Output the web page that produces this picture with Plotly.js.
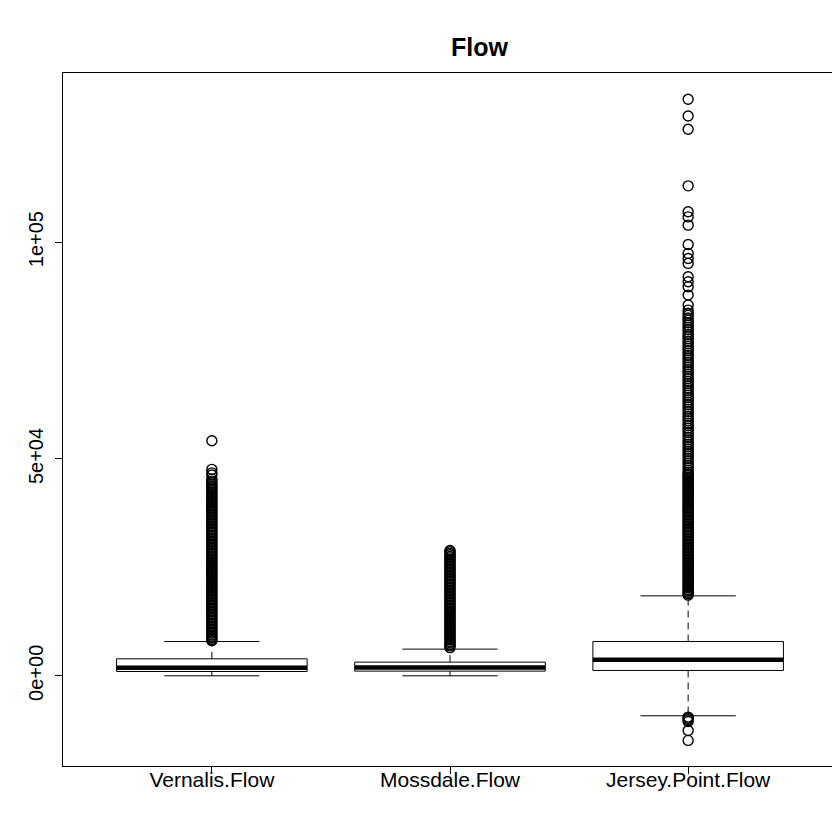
<!DOCTYPE html>
<html>
<head>
<meta charset="utf-8">
<script src="https://cdn.plot.ly/plotly-3.0.1.min.js"></script>
<style>
html,body{margin:0;padding:0;overflow:hidden;background:#fff;}
#chart{width:840px;height:824px;}
</style>
</head>
<body>
<div id="chart"></div>
<script>
// ---- data ----
const categories = ["Vernalis.Flow", "Mossdale.Flow", "Jersey.Point.Flow"];
const positions = [1, 2, 3];
const lowerWhisker = [0, 0, -9220];
const q1 = [990, 1080, 1230];
const median = [1840, 1900, 3690];
const q3 = [3920, 3150, 7910];
const upperWhisker = [7900, 6150, 18430];

const vernalisOutliers = [54200, 47600, 46800, 46300, 45400, 44900, 44500,
  44100, 43700, 43400, 43000, 42700, 42300, 42000, 41600, 41300, 40900, 40600, 40200, 39900, 39500, 39200, 38800, 38500, 38100, 37800, 37400, 37100, 36700, 36400, 36000, 35700, 35300, 35000, 34600, 34300, 33900, 33600, 33200, 32900, 32500, 32200, 31800, 31500, 31100, 30800, 30400, 30100, 29700, 29400, 29000, 28700, 28300, 28000, 27600, 27300, 26900, 26600, 26200, 25900, 25500, 25200, 24800, 24500, 24100, 23800, 23400, 23100, 22700, 22400, 22000, 21700, 21300, 21000, 20600, 20300, 19900, 19600, 19200, 18900, 18500, 18200, 17800, 17500, 17100, 16800, 16400, 16100, 15700, 15400, 15000, 14700, 14300, 14000, 13600, 13300, 12900, 12600, 12200, 11900, 11500, 11200, 10800, 10500, 10100, 9800, 9400, 9100, 8700, 8400, 8100];
const mossdaleOutliers = [28900, 28600, 28200, 27900, 27500, 27200, 26800, 26500, 26100, 25800, 25400, 25100, 24700, 24400, 24000, 23700, 23300, 23000, 22600, 22300, 21900, 21600, 21200, 20900, 20500, 20200, 19800, 19500, 19100, 18800, 18400, 18100, 17700, 17400, 17000, 16700, 16300, 16000, 15600, 15300, 14900, 14600, 14200, 13900, 13500, 13200, 12800, 12500, 12100, 11800, 11400, 11100, 10700, 10400, 10000, 9700, 9300, 9000, 8600, 8300, 7900, 7600, 7200, 6900, 6500];
const jerseyOutliers = [132950, 129100, 126040, 112980, 106990, 105830, 103920, 99470, 97400, 96240, 95090, 92000, 90850, 89700, 87790, 85480, 84330,
  83600, 83100, 82500, 82000, 81400, 80900, 80400, 79800, 79300, 78700, 78200, 77700, 77100, 76600, 76000, 75500, 75000, 74400, 73900, 73300, 72800, 72300, 71700, 71200, 70600, 70100, 69600, 69000, 68500, 67900, 67400, 66900, 66300, 65800, 65200, 64700, 64200, 63600, 63100, 62500, 62000, 61500, 60900, 60400, 59800, 59300, 58800, 58200, 57700, 57100, 56600, 56100, 55500, 55000, 54400, 53900, 53400, 52800, 52300, 51700, 51200, 50700, 50100, 49600, 49000, 48500, 48000, 47400, 46900,
  46500, 46200, 45800, 45500, 45100, 44800, 44400, 44100, 43700, 43400, 43000, 42700, 42300, 42000, 41600, 41300, 40900, 40600, 40200, 39900, 39500, 39200, 38800, 38500, 38100, 37800, 37400, 37100, 36700, 36400, 36000, 35700, 35300, 35000, 34600, 34300, 33900, 33600, 33200, 32900, 32500, 32200, 31800, 31500, 31100, 30800, 30400, 30100, 29700, 29400, 29000, 28700, 28300, 28000, 27600, 27300, 26900, 26600, 26200, 25900, 25500, 25200, 24800, 24500, 24100, 23800, 23400, 23100, 22700, 22400, 22000, 21700, 21300, 21000, 20600, 20300, 19900, 19600, 19200, 18900, 18600,
  -9520, -9800, -10100, -10530, -12600, -14900];
const outliers = [vernalisOutliers, mossdaleOutliers, jerseyOutliers];

const yTickVals = [0, 50000, 100000];
const yTickText = ["0e+00", "5e+04", "1e+05"];

// ---- styles ----
const BOXW = 0.8, CAPW = 0.4;
const FONT = "Liberation Sans, Arial, sans-serif";

// box bodies (whiskers drawn separately, dashed like R)
const boxTrace = {
  type: 'box', x: positions, q1: q1, median: median, q3: q3,
  lowerfence: q1, upperfence: q3, width: BOXW, whiskerwidth: 0,
  boxpoints: false, fillcolor: '#ffffff',
  line: {color: '#000000', width: 1}, hoverinfo: 'skip', showlegend: false
};

// whiskers
const wx = [], wy = [];
positions.forEach((p, i) => {
  wx.push(p, p, null, p, p, null);
  wy.push(q3[i], upperWhisker[i], null, q1[i], lowerWhisker[i], null);
});
const whiskerTrace = {type: 'scatter', mode: 'lines', x: wx, y: wy,
  line: {color: '#000', width: 1, dash: '7px,5px'}, hoverinfo: 'skip', showlegend: false};

// caps
const cx = [], cy = [];
positions.forEach((p, i) => {
  cx.push(p - CAPW / 2, p + CAPW / 2, null, p - CAPW / 2, p + CAPW / 2, null);
  cy.push(upperWhisker[i], upperWhisker[i], null, lowerWhisker[i], lowerWhisker[i], null);
});
const capTrace = {type: 'scatter', mode: 'lines', x: cx, y: cy,
  line: {color: '#000', width: 1}, hoverinfo: 'skip', showlegend: false};

// medians (thick)
const mx = [], my = [];
positions.forEach((p, i) => {
  mx.push(p - BOXW / 2, p + BOXW / 2, null);
  my.push(median[i], median[i], null);
});
const medianTrace = {type: 'scatter', mode: 'lines', x: mx, y: my,
  line: {color: '#000', width: 4.5}, hoverinfo: 'skip', showlegend: false};

// outliers
const ox = [], oy = [];
outliers.forEach((arr, i) => arr.forEach(v => { ox.push(positions[i]); oy.push(v); }));
const outlierTrace = {type: 'scatter', mode: 'markers', x: ox, y: oy,
  marker: {symbol: 'circle-open', size: 10, color: '#000', line: {width: 1.4, color: '#000'}},
  hoverinfo: 'skip', showlegend: false};

const layout = {
  width: 840, height: 824,
  margin: {l: 63, r: 3, t: 73, b: 58},
  paper_bgcolor: '#fff', plot_bgcolor: '#fff',
  font: {family: FONT, size: 21, color: '#000'},
  title: {text: 'Flow', font: {family: FONT, size: 25, weight: 'bold', color: '#000'},
    x: 452 / 840, xref: 'paper', xanchor: 'center', y: 1 - 47 / 824, yref: 'container', yanchor: 'middle'},
  xaxis: {range: [0.375, 3.625], tickvals: positions, ticktext: categories,
    showgrid: false, zeroline: false, showline: true, mirror: true, linecolor: '#000', linewidth: 1,
    ticks: 'outside', ticklen: 7, tickcolor: '#000', tickwidth: 1, ticklabelstandoff: -12,
    tickfont: {family: FONT, size: 21, color: '#000'}},
  yaxis: {range: [-20800, 139000], tickvals: yTickVals, ticktext: yTickText,
    showgrid: false, zeroline: false, showline: true, mirror: true, linecolor: '#000', linewidth: 1,
    ticks: 'outside', ticklen: 7, tickcolor: '#000', tickwidth: 1, tickangle: -90, ticklabelstandoff: 4,
    tickfont: {family: FONT, size: 20, color: '#000'}},
  showlegend: false
};

Plotly.newPlot('chart', [boxTrace, whiskerTrace, capTrace, medianTrace, outlierTrace], layout,
  {displayModeBar: false, staticPlot: true});
</script>
</body>
</html>
